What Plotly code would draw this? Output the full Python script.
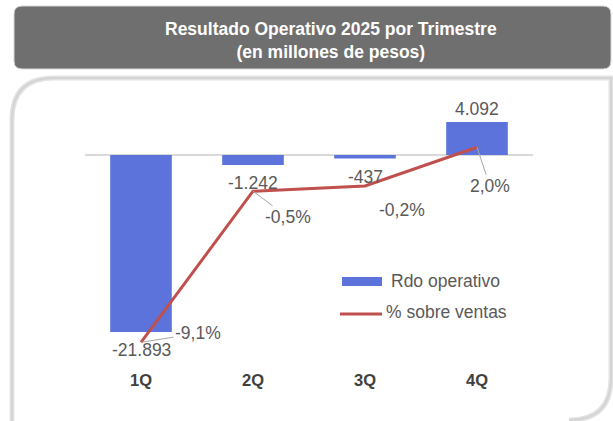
import plotly.graph_objects as go

quarters = ["1Q", "2Q", "3Q", "4Q"]
rdo_operativo = [-21893, -1242, -437, 4092]
pct_ventas = [-9.1, -0.5, -0.2, 2.0]
series_names = ["Rdo operativo", "% sobre ventas"]
title_lines = ["Resultado Operativo 2025 por Trimestre", "(en millones de pesos)"]

W, H = 613, 421
BLUE = "#5B73DB"
RED = "#C0504D"
TXT = "#595959"
FONT = "Liberation Sans, Arial, sans-serif"
FS = 17.5

def px(x):
    return x / W

def py(y):
    return 1 - y / H

def fmt_num(v):
    return f"{v:,}".replace(",", ".")

def fmt_pct(p):
    return f"{p:.1f}".replace(".", ",") + "%"

# plot area in pixels
top_px, bot_px = 100, 368
zero1_px, k1 = 155, 0.008085  # px per unit
zero2_px, k2 = 182.4, 17.57   # px per %
y1_range = [-(bot_px - zero1_px) / k1, (zero1_px - top_px) / k1]
y2_range = [-(bot_px - zero2_px) / k2, (zero2_px - top_px) / k2]

fig = go.Figure()
fig.add_trace(go.Bar(x=quarters, y=rdo_operativo, name=series_names[0],
                     marker=dict(color=BLUE, line=dict(width=0)), width=0.55,
                     yaxis="y", showlegend=False, hoverinfo="skip"))
fig.add_trace(go.Scatter(x=quarters, y=pct_ventas, name=series_names[1], mode="lines",
                         line=dict(color=RED, width=3), yaxis="y2",
                         showlegend=False, hoverinfo="skip"))

annotations = []
for q, v in zip(quarters, rdo_operativo):
    if v < 0:
        annotations.append(dict(x=q, y=v, xref="x", yref="y", text=fmt_num(v), showarrow=False,
                                yanchor="top", yshift=-6, font=dict(size=FS, color=TXT, family=FONT)))
    else:
        annotations.append(dict(x=q, y=v, xref="x", yref="y", text=fmt_num(v), showarrow=False,
                                yanchor="bottom", yshift=1, font=dict(size=FS, color=TXT, family=FONT)))

offsets = [(57, -9), (35, 26), (37, 24), (13, 39)]
for q, p, (ax, ay) in zip(quarters, pct_ventas, offsets):
    annotations.append(dict(x=q, y=p, xref="x", yref="y2", text=fmt_pct(p), showarrow=True,
                            arrowhead=0, arrowwidth=1, arrowcolor="#a6a6a6", ax=ax, ay=ay,
                            standoff=0, font=dict(size=FS, color=TXT, family=FONT)))

# title
annotations.append(dict(x=px(331), y=py(41), xref="paper", yref="paper",
                        xanchor="center", yanchor="middle",
                        text="<b>" + title_lines[0] + "</b><br><b>" + title_lines[1] + "</b>",
                        showarrow=False, font=dict(size=17.5, color="white", family=FONT)))

# legend text
annotations.append(dict(x=px(389), y=py(281), xref="paper", yref="paper", text=series_names[0],
                        xanchor="left", yanchor="middle", showarrow=False,
                        font=dict(size=FS, color=TXT, family=FONT)))
annotations.append(dict(x=px(384), y=py(312), xref="paper", yref="paper", text=series_names[1],
                        xanchor="left", yanchor="middle", showarrow=False,
                        font=dict(size=FS, color=TXT, family=FONT)))

r = 8
tb = (14, 6, 611, 69)
title_path = (f"M {px(tb[0]+r)},{py(tb[1])} L {px(tb[2]-r)},{py(tb[1])} Q {px(tb[2])},{py(tb[1])} {px(tb[2])},{py(tb[1]+r)} "
              f"L {px(tb[2])},{py(tb[3]-r)} Q {px(tb[2])},{py(tb[3])} {px(tb[2]-r)},{py(tb[3])} "
              f"L {px(tb[0]+r)},{py(tb[3])} Q {px(tb[0])},{py(tb[3])} {px(tb[0])},{py(tb[3]-r)} "
              f"L {px(tb[0])},{py(tb[1]+r)} Q {px(tb[0])},{py(tb[1])} {px(tb[0]+r)},{py(tb[1])} Z")
R = 42
panel_path = (f"M {px(12)},{py(423)} L {px(12)},{py(78+R)} Q {px(12)},{py(78)} {px(12+R)},{py(78)} "
              f"L {px(611)},{py(78)} L {px(611)},{py(420-R)} Q {px(611)},{py(420)} {px(611-R)},{py(420)}")

shapes = [
    dict(type="path", path=panel_path, xref="paper", yref="paper",
         line=dict(color="rgba(200,200,200,0.5)", width=5), layer="below"),
    dict(type="path", path=panel_path, xref="paper", yref="paper",
         line=dict(color="#d4d4d4", width=2), layer="below"),
    dict(type="path", path=title_path, xref="paper", yref="paper",
         fillcolor="#6f6f6f", line=dict(color="#d9d9d9", width=1), layer="below"),
    # legend symbols
    dict(type="rect", xref="paper", yref="paper", x0=px(342), x1=px(382), y0=py(286), y1=py(277),
         fillcolor=BLUE, line=dict(width=0)),
    dict(type="line", xref="paper", yref="paper", x0=px(340), x1=px(382), y0=py(314), y1=py(314),
         line=dict(color=RED, width=3)),
]

fig.update_layout(
    width=W, height=H, margin=dict(l=0, r=0, t=0, b=0),
    paper_bgcolor="white", plot_bgcolor="rgba(0,0,0,0)",
    xaxis=dict(domain=[px(85), px(533)], type="category", range=[-0.5, 3.5],
               showgrid=False, showline=False, ticks="", zeroline=False,
               tickfont=dict(size=16.5, color="#404040", family=FONT, weight="bold")),
    yaxis=dict(domain=[py(bot_px), py(top_px)], range=y1_range, showgrid=False,
               zeroline=True, zerolinecolor="#d9d9d9", zerolinewidth=1.5,
               showticklabels=False, ticks=""),
    yaxis2=dict(domain=[py(bot_px), py(top_px)], range=y2_range, overlaying="y",
                showgrid=False, zeroline=False, showticklabels=False, ticks=""),
    annotations=annotations, shapes=shapes, showlegend=False,
)

fig.write_html("out.html", config={"displayModeBar": False, "staticPlot": True},
               post_script="document.body.style.margin='0px';document.body.style.padding='0px';document.body.style.overflow='hidden';")
